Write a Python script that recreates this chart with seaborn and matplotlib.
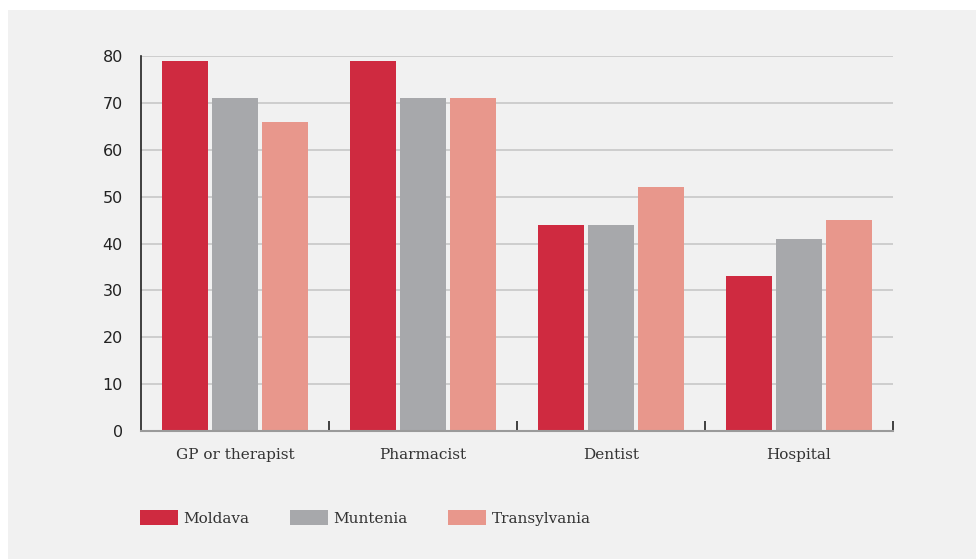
import matplotlib
matplotlib.use("Agg")
import matplotlib.pyplot as plt
import seaborn as sns
import pandas as pd
from matplotlib.patches import Rectangle

# Share of respondents per source of care, by region
categories = ["GP or therapist", "Pharmacist", "Dentist", "Hospital"]
regions = ["Moldava", "Muntenia", "Transylvania"]
moldava = [79, 79, 44, 33]
muntenia = [71, 71, 44, 41]
transylvania = [66, 71, 52, 45]
y_ticks = [0, 10, 20, 30, 40, 50, 60, 70, 80]

palette = ["#cf2a40", "#a7a8ab", "#e8978c"]
bg = "#f1f1f1"

df = pd.DataFrame({
    "category": categories * 3,
    "region": [r for r in regions for _ in categories],
    "value": moldava + muntenia + transylvania,
})

sns.set_theme(style="white")
plt.rcParams["font.family"] = ["DejaVu Sans"]

fig = plt.figure(figsize=(9.76, 5.59), dpi=100)
fig.patch.set_facecolor("white")
# light grey panel with a thin white margin at top and left
fig.patches.append(Rectangle((8 / 976, 0), 1, 1 - 10 / 559, transform=fig.transFigure,
                             facecolor=bg, edgecolor="none", zorder=-10))

ax = fig.add_axes([141 / 976, 128 / 559, 752 / 976, 375 / 559])
ax.set_facecolor(bg)

sns.barplot(data=df, x="category", y="value", hue="region", order=categories,
            hue_order=regions, palette=palette, width=0.798, gap=0.08,
            saturation=1, edgecolor="none", linewidth=0, ax=ax, legend=True)

ax.set_xlim(-0.5, 3.5)
ax.set_ylim(0, 80)
ax.set_yticks(y_ticks)
ax.yaxis.grid(True, color="#c8c8c8", linewidth=1.2)
ax.set_axisbelow(True)
ax.set_xlabel("")
ax.set_ylabel("")

for s in ["top", "right"]:
    ax.spines[s].set_visible(False)
ax.spines["left"].set_color("#222222")
ax.spines["left"].set_linewidth(1.2)
ax.spines["bottom"].set_color("#9a9a9a")
ax.spines["bottom"].set_linewidth(1.5)

ax.tick_params(axis="y", length=0, pad=13, labelsize=11.5, labelcolor="#222222")
ax.tick_params(axis="x", which="major", length=0, pad=12, labelsize=11, labelcolor="#333333")
for lbl in ax.get_xticklabels():
    lbl.set_fontfamily("DejaVu Serif")

# group separators on the baseline
ax.set_xticks([0.5, 1.5, 2.5, 3.5], minor=True)
ax.tick_params(axis="x", which="minor", bottom=True, direction="in", length=7,
               width=1.2, color="#222222")

handles, labels = ax.get_legend_handles_labels()
ax.get_legend().remove()
leg = fig.legend(handles, labels, loc="upper left", bbox_to_anchor=(126 / 976, 1 - 496 / 559),
                 ncol=3, frameon=False, handlelength=2.5, handleheight=1.2,
                 handletextpad=0.35, columnspacing=2.65,
                 prop={"family": "DejaVu Serif", "size": 11})
for t in leg.get_texts():
    t.set_color("#333333")

fig.savefig("out.png", dpi=100, facecolor=fig.get_facecolor())
